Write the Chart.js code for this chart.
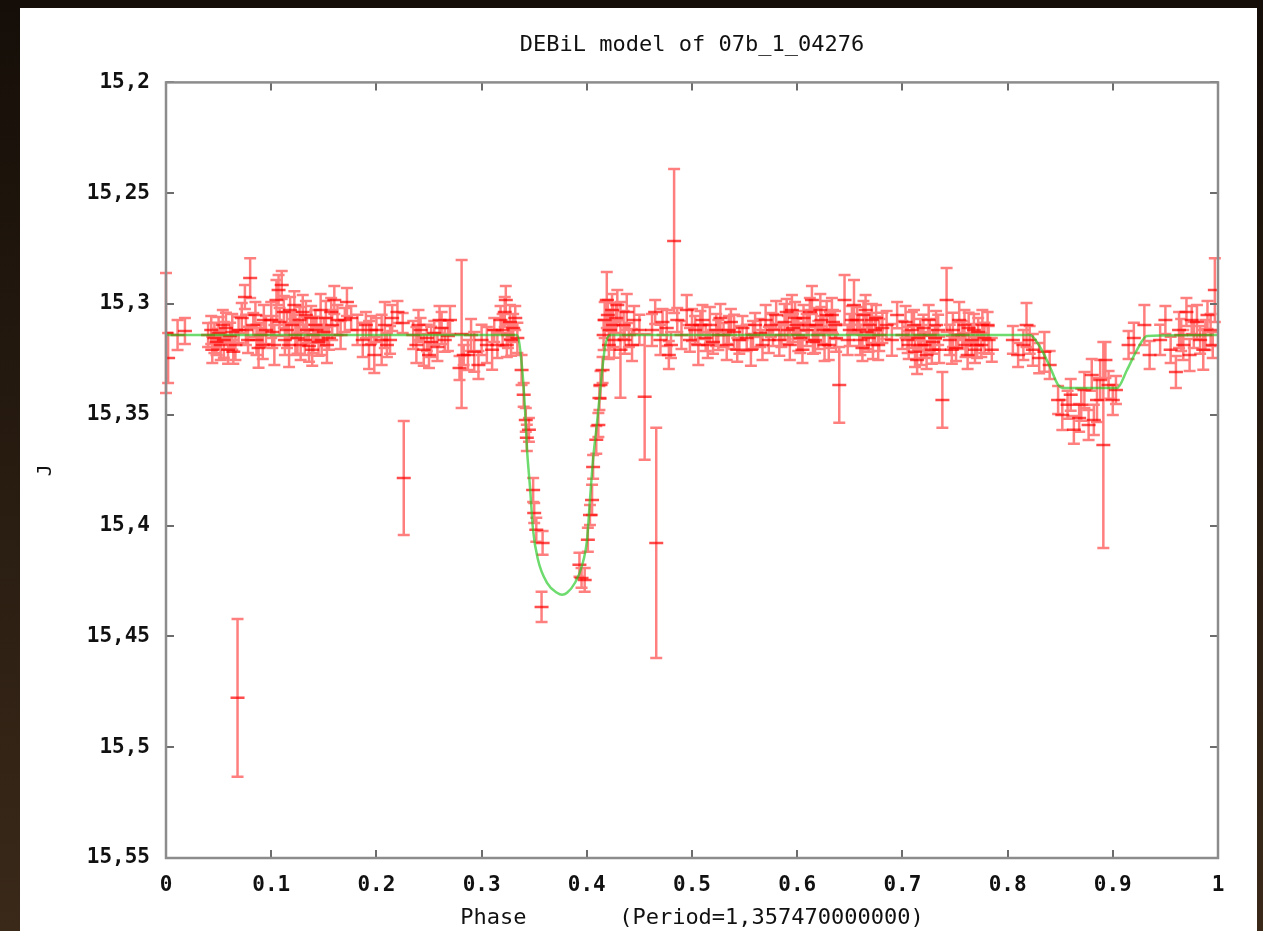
<!DOCTYPE html>
<html>
<head>
<meta charset="utf-8">
<script src="https://cdn.jsdelivr.net/npm/chart.js@4.4.0/dist/chart.umd.min.js"></script>
<style>
  html, body { margin: 0; padding: 0; }
  body {
    width: 1263px; height: 931px; overflow: hidden; position: relative;
    background: linear-gradient(to bottom, #150e08, #3a2919);
  }
  #panel { position: absolute; left: 20px; top: 8px; width: 1237px; height: 923px; background: #fff; }
  #wrap { position: absolute; left: 0; top: 0; width: 1263px; height: 931px; }
</style>
</head>
<body>
<div id="panel"></div>
<div id="wrap"><canvas id="lc"></canvas></div>
<script>
// J-band light curve, folded on the period
const phase = [
  0.000, 0.002, 0.011, 0.018,
  0.040, 0.043, 0.046, 0.048, 0.050, 0.052, 0.055, 0.057, 0.059, 0.061, 0.063, 0.066, 0.068, 0.069,
  0.072, 0.075, 0.078, 0.080, 0.083, 0.086, 0.088, 0.090, 0.093, 0.095,
  0.100, 0.103, 0.105, 0.107, 0.110, 0.112, 0.115, 0.117, 0.120, 0.122, 0.125, 0.127, 0.130,
  0.132, 0.134, 0.136, 0.138, 0.140, 0.142, 0.145, 0.147, 0.150, 0.152, 0.155, 0.158, 0.160,
  0.170, 0.172, 0.176, 0.182, 0.187, 0.190, 0.193, 0.198, 0.200, 0.205, 0.208, 0.213, 0.215,
  0.220, 0.225, 0.226,
  0.235, 0.238, 0.242, 0.245, 0.248, 0.252, 0.255, 0.258, 0.262, 0.265, 0.268, 0.270,
  0.279, 0.281, 0.283, 0.287, 0.293, 0.300, 0.305, 0.310, 0.312, 0.315, 0.318, 0.320, 0.322,
  0.324, 0.325, 0.327, 0.330, 0.332, 0.334,
  0.338, 0.340, 0.342, 0.343, 0.345, 0.349, 0.350, 0.352, 0.357, 0.358,
  0.393, 0.395, 0.398, 0.401, 0.403, 0.405, 0.406, 0.409, 0.411, 0.412, 0.413, 0.415,
  0.416, 0.419, 0.420, 0.422, 0.424, 0.426, 0.428, 0.432, 0.435, 0.438, 0.440, 0.443, 0.445,
  0.455, 0.462, 0.465, 0.466, 0.470, 0.476, 0.478, 0.480, 0.483, 0.486, 0.490, 0.495, 0.500,
  0.503, 0.506, 0.510, 0.513, 0.517, 0.520, 0.523, 0.527, 0.530, 0.533, 0.537, 0.540, 0.545, 0.548,
  0.552, 0.556, 0.560, 0.565, 0.570, 0.573, 0.577, 0.580, 0.585, 0.588, 0.590, 0.593, 0.596, 0.598,
  0.600, 0.603, 0.606, 0.609, 0.612, 0.615, 0.618, 0.620, 0.623, 0.626, 0.628, 0.631, 0.634, 0.637,
  0.640, 0.645, 0.650, 0.654, 0.657, 0.660, 0.663, 0.666, 0.669, 0.672, 0.675, 0.678, 0.681,
  0.685, 0.690, 0.695, 0.700, 0.703, 0.706, 0.709, 0.712, 0.715, 0.718, 0.720, 0.723, 0.726,
  0.729, 0.732, 0.735, 0.738, 0.742, 0.745, 0.748, 0.751, 0.754, 0.757, 0.760, 0.763, 0.766,
  0.769, 0.772, 0.775, 0.778, 0.781, 0.785,
  0.805, 0.810, 0.815, 0.818, 0.821, 0.824,
  0.830, 0.835, 0.840, 0.852, 0.857, 0.860, 0.868, 0.873, 0.877, 0.880, 0.885, 0.888, 0.891,
  0.893, 0.900, 0.903, 0.915, 0.920, 0.930, 0.935,
  0.945, 0.950, 0.955, 0.960, 0.963, 0.967, 0.970, 0.973, 0.977, 0.980, 0.983, 0.986, 0.990,
  0.993, 0.997,
  // second night
  0.044, 0.054, 0.064, 0.076, 0.085, 0.092,
  0.101, 0.108, 0.113, 0.118, 0.123, 0.128, 0.133, 0.139, 0.143, 0.148, 0.153, 0.157, 0.163, 0.166,
  0.195, 0.210, 0.240, 0.250, 0.260, 0.290, 0.297, 0.323, 0.328,
  0.417, 0.421, 0.425, 0.429, 0.436, 0.450, 0.472, 0.498,
  0.508, 0.515, 0.525, 0.535, 0.543, 0.558, 0.567, 0.575, 0.583, 0.591, 0.595,
  0.601, 0.605, 0.611, 0.614, 0.617, 0.622, 0.625, 0.630, 0.633, 0.636,
  0.648, 0.652, 0.659, 0.662, 0.665, 0.668, 0.671, 0.674, 0.677,
  0.705, 0.711, 0.714, 0.717, 0.721, 0.725, 0.728, 0.731, 0.734,
  0.747, 0.753, 0.759, 0.762, 0.768, 0.771, 0.776, 0.782,
  0.848, 0.863, 0.870, 0.882, 0.896,
  0.965, 0.975, 0.988, 0.995
];
const jMag = [
  15.3131, 15.3244, 15.3140, 15.3122,
  15.3140, 15.3117, 15.3153, 15.3171, 15.3131, 15.3185, 15.3162, 15.3108, 15.3207, 15.3144, 15.3126, 15.3185, 15.4777, 15.3117,
  15.3063, 15.2968, 15.3162, 15.2883, 15.3095, 15.3162, 15.3198, 15.3140, 15.3072, 15.3117,
  15.3072, 15.3185, 15.2982, 15.2937, 15.2914, 15.3036, 15.3117, 15.3185, 15.3095, 15.3005, 15.3153, 15.3072, 15.3036,
  15.3162, 15.3117, 15.3189, 15.3063, 15.3140, 15.3095, 15.3171, 15.3027, 15.3126, 15.3063, 15.3153, 15.3095, 15.2982,
  15.3072, 15.2991, 15.3063, 15.3117, 15.3162, 15.3095, 15.3185, 15.3230, 15.3117, 15.3162, 15.3095, 15.3162, 15.3063,
  15.3036, 15.3086, 15.3785,
  15.3140, 15.3185, 15.3117, 15.3207, 15.3153, 15.3171, 15.3131, 15.3194, 15.3108, 15.3162, 15.3144, 15.3072,
  15.3289, 15.3135, 15.3230, 15.3230, 15.3216, 15.3162, 15.3185, 15.3207, 15.3117, 15.3185, 15.3072, 15.3117, 15.3036,
  15.3185, 15.3140, 15.3081, 15.3108, 15.3063, 15.3153,
  15.3298, 15.3410, 15.3523, 15.3604, 15.3568, 15.3839, 15.3943, 15.4019, 15.4367, 15.4078,
  15.4177, 15.4236, 15.4245, 15.4064, 15.3952, 15.3884, 15.3735, 15.3613, 15.3546, 15.3424, 15.3365, 15.3298,
  15.3140, 15.2982, 15.3050, 15.3117, 15.3027, 15.3162, 15.3063, 15.3207, 15.3095, 15.3036, 15.3140, 15.3185, 15.3072,
  15.3419, 15.3117, 15.3036, 15.4078, 15.3162, 15.3108, 15.3230, 15.3185, 15.2716, 15.3072, 15.3140, 15.3027, 15.3095,
  15.3117, 15.3185, 15.3072, 15.3153, 15.3095, 15.3171, 15.3117, 15.3063, 15.3140, 15.3185, 15.3081, 15.3126, 15.3162, 15.3108,
  15.3153, 15.3207, 15.3095, 15.3131, 15.3072, 15.3162, 15.3117, 15.3050, 15.3140, 15.3081, 15.3036, 15.3185, 15.3108, 15.3063,
  15.3095, 15.3153, 15.3063, 15.3117, 15.3036, 15.3171, 15.3095, 15.3140, 15.3072, 15.3185, 15.3050, 15.3117, 15.3081, 15.3153,
  15.3365, 15.2982, 15.3117, 15.3005, 15.3072, 15.3162, 15.3050, 15.3126, 15.3095, 15.3185, 15.3063, 15.3140, 15.3108,
  15.3095, 15.3162, 15.3050, 15.3140, 15.3081, 15.3185, 15.3117, 15.3216, 15.3153, 15.3185, 15.3108, 15.3230, 15.3140,
  15.3171, 15.3095, 15.3207, 15.3433, 15.2982, 15.3162, 15.3117, 15.3198, 15.3072, 15.3140, 15.3185, 15.3108, 15.3162,
  15.3207, 15.3126, 15.3185, 15.3153, 15.3095, 15.3207,
  15.3162, 15.3230, 15.3185, 15.3095, 15.3162, 15.3207,
  15.3244, 15.3216, 15.3275, 15.3501, 15.3455, 15.3410, 15.3514, 15.3388, 15.3546, 15.3320, 15.3433, 15.3343, 15.3636,
  15.3253, 15.3433, 15.3388, 15.3185, 15.3153, 15.3095, 15.3230,
  15.3162, 15.3072, 15.3207, 15.3307, 15.3117, 15.3185, 15.3036, 15.3230, 15.3140, 15.3081, 15.3162, 15.3207, 15.3050,
  15.3117, 15.2937,
  // second night
  15.3207, 15.3095, 15.3216, 15.3117, 15.3050, 15.3185,
  15.3126, 15.3081, 15.3162, 15.3027, 15.3140, 15.3185, 15.3050, 15.3207, 15.3117, 15.3162, 15.3185, 15.3036, 15.3072, 15.3140,
  15.3117, 15.3185, 15.3095, 15.3230, 15.3072, 15.3140, 15.3275, 15.2982, 15.3162,
  15.3072, 15.3185, 15.3095, 15.3005, 15.3162, 15.3117, 15.3081, 15.3162,
  15.3095, 15.3185, 15.3140, 15.3117, 15.3207, 15.3140, 15.3185, 15.3095, 15.3162, 15.3117, 15.3027,
  15.3140, 15.3207, 15.3095, 15.2982, 15.3162, 15.3027, 15.3117, 15.3185, 15.3050, 15.3095,
  15.3162, 15.3072, 15.3117, 15.3198, 15.3027, 15.3153, 15.3072, 15.3117, 15.3185,
  15.3162, 15.3095, 15.3253, 15.3140, 15.3185, 15.3072, 15.3207, 15.3153, 15.3117,
  15.3207, 15.3140, 15.3095, 15.3230, 15.3117, 15.3185, 15.3095, 15.3162,
  15.3433, 15.3568, 15.3455, 15.3523, 15.3365,
  15.3140, 15.3072, 15.3140, 15.3185
];
const jErr = [
  0.0271, 0.0113, 0.0068, 0.0059,
  0.0054, 0.0063, 0.0068, 0.0059, 0.0072, 0.0068, 0.0081, 0.0068, 0.0063, 0.0059, 0.0081, 0.0068, 0.0356, 0.0059,
  0.0068, 0.0054, 0.0059, 0.0090, 0.0054, 0.0068, 0.0090, 0.0054, 0.0068, 0.0063,
  0.0081, 0.0090, 0.0090, 0.0068, 0.0063, 0.0072, 0.0081, 0.0099, 0.0059, 0.0063, 0.0072, 0.0059, 0.0077,
  0.0068, 0.0059, 0.0072, 0.0054, 0.0081, 0.0068, 0.0063, 0.0072, 0.0063, 0.0077, 0.0054, 0.0068, 0.0063,
  0.0054, 0.0063, 0.0054, 0.0068, 0.0077, 0.0059, 0.0108, 0.0081, 0.0054, 0.0113, 0.0104, 0.0063, 0.0059,
  0.0050, 0.0045, 0.0257,
  0.0063, 0.0081, 0.0054, 0.0072, 0.0059, 0.0068, 0.0054, 0.0063, 0.0072, 0.0054, 0.0068, 0.0063,
  0.0054, 0.0334, 0.0045, 0.0068, 0.0090, 0.0068, 0.0081, 0.0090, 0.0054, 0.0059, 0.0063, 0.0072, 0.0068,
  0.0054, 0.0059, 0.0077, 0.0063, 0.0054, 0.0068,
  0.0068, 0.0054, 0.0054, 0.0059, 0.0054, 0.0054, 0.0045, 0.0054, 0.0068, 0.0054,
  0.0054, 0.0045, 0.0054, 0.0054, 0.0045, 0.0068, 0.0054, 0.0063, 0.0054, 0.0054, 0.0063, 0.0059,
  0.0068, 0.0126, 0.0068, 0.0090, 0.0072, 0.0081, 0.0068, 0.0216, 0.0063, 0.0081, 0.0054, 0.0072, 0.0063,
  0.0284, 0.0072, 0.0054, 0.0519, 0.0068, 0.0081, 0.0063, 0.0059, 0.0325, 0.0054, 0.0063, 0.0068, 0.0072,
  0.0063, 0.0090, 0.0068, 0.0059, 0.0081, 0.0054, 0.0072, 0.0063, 0.0054, 0.0068, 0.0059, 0.0077, 0.0063, 0.0054,
  0.0059, 0.0072, 0.0054, 0.0063, 0.0068, 0.0059, 0.0072, 0.0063, 0.0054, 0.0081, 0.0059, 0.0068, 0.0063, 0.0072,
  0.0063, 0.0068, 0.0059, 0.0072, 0.0063, 0.0054, 0.0077, 0.0063, 0.0059, 0.0072, 0.0063, 0.0081, 0.0054, 0.0063,
  0.0171, 0.0113, 0.0072, 0.0113, 0.0059, 0.0068, 0.0063, 0.0077, 0.0054, 0.0063, 0.0059, 0.0072, 0.0068,
  0.0063, 0.0072, 0.0059, 0.0063, 0.0072, 0.0063, 0.0081, 0.0068, 0.0054, 0.0090, 0.0059, 0.0063, 0.0072,
  0.0054, 0.0063, 0.0059, 0.0126, 0.0144, 0.0068, 0.0077, 0.0059, 0.0081, 0.0063, 0.0054, 0.0068, 0.0072,
  0.0059, 0.0063, 0.0054, 0.0068, 0.0059, 0.0054,
  0.0063, 0.0054, 0.0068, 0.0099, 0.0063, 0.0072,
  0.0068, 0.0090, 0.0063, 0.0068, 0.0063, 0.0072, 0.0063, 0.0081, 0.0068, 0.0072, 0.0099, 0.0090, 0.0465,
  0.0081, 0.0068, 0.0063, 0.0063, 0.0068, 0.0090, 0.0063,
  0.0068, 0.0063, 0.0059, 0.0072, 0.0081, 0.0068, 0.0063, 0.0072, 0.0059, 0.0077, 0.0063, 0.0090, 0.0063,
  0.0072, 0.0144,
  // second night
  0.0059, 0.0068, 0.0054, 0.0068, 0.0059, 0.0063,
  0.0072, 0.0063, 0.0068, 0.0059, 0.0090, 0.0068, 0.0063, 0.0072, 0.0059, 0.0068, 0.0081, 0.0063, 0.0068, 0.0063,
  0.0063, 0.0054, 0.0068, 0.0059, 0.0063, 0.0072, 0.0063, 0.0063, 0.0072,
  0.0081, 0.0063, 0.0099, 0.0068, 0.0063, 0.0068, 0.0059, 0.0054,
  0.0063, 0.0059, 0.0068, 0.0063, 0.0054, 0.0063, 0.0068, 0.0054, 0.0072, 0.0063, 0.0068,
  0.0072, 0.0059, 0.0068, 0.0063, 0.0059, 0.0072, 0.0063, 0.0068, 0.0077, 0.0063,
  0.0068, 0.0063, 0.0072, 0.0059, 0.0068, 0.0063, 0.0072, 0.0059, 0.0068,
  0.0059, 0.0068, 0.0063, 0.0072, 0.0059, 0.0068, 0.0063, 0.0054, 0.0068,
  0.0063, 0.0059, 0.0068, 0.0063, 0.0072, 0.0059, 0.0068, 0.0063,
  0.0063, 0.0063, 0.0072, 0.0068, 0.0063,
  0.0072, 0.0063, 0.0068, 0.0059
];

// DEBiL model curve
const modelPhase = [
  0, 0.3337, 0.3384, 0.3413, 0.3432, 0.3460, 0.3489, 0.3536, 0.3622, 0.3717, 0.3765, 0.3812,
  0.3888, 0.3954, 0.4002, 0.4030, 0.4059, 0.4097, 0.4144, 0.4173, 0.4221,
  0.8213, 0.8308, 0.8403, 0.8480, 0.8546, 0.9040, 0.9135, 0.9230, 0.9325, 1
];
const modelMag = [
  15.3140, 15.3140, 15.3284, 15.3478, 15.3658, 15.3825, 15.4019, 15.4154, 15.4258, 15.4303, 15.4312, 15.4303,
  15.4258, 15.4181, 15.4064, 15.3884, 15.3704, 15.3537, 15.3311, 15.3194, 15.3140,
  15.3140, 15.3194, 15.3284, 15.3365, 15.3379, 15.3379, 15.3298, 15.3207, 15.3144, 15.3140
];

const xTicks = [0, 0.1, 0.2, 0.3, 0.4, 0.5, 0.6, 0.7, 0.8, 0.9, 1];
const yTicks = [15.2, 15.25, 15.3, 15.35, 15.4, 15.45, 15.5, 15.55];

const titleText = 'DEBiL model of 07b_1_04276';
const xTitle = 'Phase       (Period=1,357470000000)';
const yTitle = 'J';

const mono = '"DejaVu Sans Mono", "Liberation Mono", monospace';

// vertical error bars with caps, under the point markers
const errorBars = {
  id: 'errorBars',
  beforeDatasetsDraw(chart) {
    const { ctx, scales: { x, y } } = chart;
    ctx.save();
    ctx.strokeStyle = 'rgba(255,0,0,0.5)';
    ctx.lineWidth = 2.5;
    ctx.beginPath();
    phase.forEach((p, i) => {
      const px = x.getPixelForValue(p);
      const top = y.getPixelForValue(jMag[i] - jErr[i]);
      const bot = y.getPixelForValue(jMag[i] + jErr[i]);
      ctx.moveTo(px, top); ctx.lineTo(px, bot);
      ctx.moveTo(px - 6, top); ctx.lineTo(px + 6, top);
      ctx.moveTo(px - 6, bot); ctx.lineTo(px + 6, bot);
    });
    ctx.stroke();
    ctx.restore();
  }
};

// gnuplot style box with inward ticks on all four sides
const frameTicks = {
  id: 'frameTicks',
  afterDraw(chart) {
    const { ctx, chartArea: a, scales: { x, y } } = chart;
    ctx.save();
    ctx.strokeStyle = '#6c6c6c';
    ctx.lineWidth = 2;
    ctx.beginPath();
    xTicks.forEach(v => {
      const px = Math.round(x.getPixelForValue(v));
      ctx.moveTo(px, a.bottom); ctx.lineTo(px, a.bottom - 8);
      ctx.moveTo(px, a.top); ctx.lineTo(px, a.top + 8);
    });
    yTicks.forEach(v => {
      const py = Math.round(y.getPixelForValue(v));
      ctx.moveTo(a.left, py); ctx.lineTo(a.left + 8, py);
      ctx.moveTo(a.right, py); ctx.lineTo(a.right - 8, py);
    });
    ctx.stroke();
    ctx.strokeStyle = '#8c8c8c';
    ctx.lineWidth = 2.5;
    ctx.strokeRect(a.left, a.top, a.right - a.left, a.bottom - a.top);
    ctx.restore();
  }
};

new Chart(document.getElementById('lc').getContext('2d'), {
  data: {
    datasets: [
      {
        type: 'line',
        data: modelPhase.map((p, i) => ({ x: p, y: modelMag[i] })),
        borderColor: 'rgba(30,200,30,0.65)',
        borderWidth: 2.5,
        pointRadius: 0,
        cubicInterpolationMode: 'monotone',
      },
      {
        type: 'scatter',
        data: phase.map((p, i) => ({ x: p, y: jMag[i] })),
        pointStyle: 'line',
        pointRadius: 7,
        borderColor: 'rgba(255,0,0,0.7)',
        borderWidth: 2.5,
      },
    ],
  },
  options: {
    animation: false,
    responsive: true,
    maintainAspectRatio: false,
    events: [],
    layout: { padding: { left: 20, right: 45, top: 0, bottom: 0 } },
    scales: {
      x: {
        type: 'linear',
        min: 0,
        max: 1,
        afterBuildTicks: s => { s.ticks = xTicks.map(v => ({ value: v })); },
        afterFit: s => { s.height = 73; },
        grid: { display: false, drawTicks: false },
        border: { display: false },
        ticks: {
          padding: 15,
          color: '#111',
          font: { family: mono, size: 21, weight: 'bold' },
          callback: v => String(+v.toFixed(1)),
        },
        title: {
          display: true,
          text: xTitle,
          color: '#111',
          font: { family: mono, size: 22 },
          padding: 0,
        },
      },
      y: {
        type: 'linear',
        reverse: true,
        min: 15.2,
        max: 15.55,
        afterBuildTicks: s => { s.ticks = yTicks.map(v => ({ value: v })); },
        afterFit: s => { s.width = 146; },
        grid: { display: false, drawTicks: false },
        border: { display: false },
        ticks: {
          padding: 16,
          color: '#111',
          font: { family: mono, size: 21, weight: 'bold' },
          callback: v => String(+v.toFixed(2)).replace('.', ','),
        },
        title: {
          display: true,
          text: yTitle,
          color: '#111',
          font: { family: mono, size: 20 },
          padding: { top: 14, bottom: 0 },
        },
      },
    },
    plugins: {
      legend: { display: false },
      tooltip: { enabled: false },
      title: {
        display: true,
        text: titleText,
        fullSize: false,
        color: '#111',
        font: { family: mono, size: 22, weight: 'normal' },
        padding: { top: 32, bottom: 24 },
      },
    },
  },
  plugins: [errorBars, frameTicks],
});
</script>
</body>
</html>
